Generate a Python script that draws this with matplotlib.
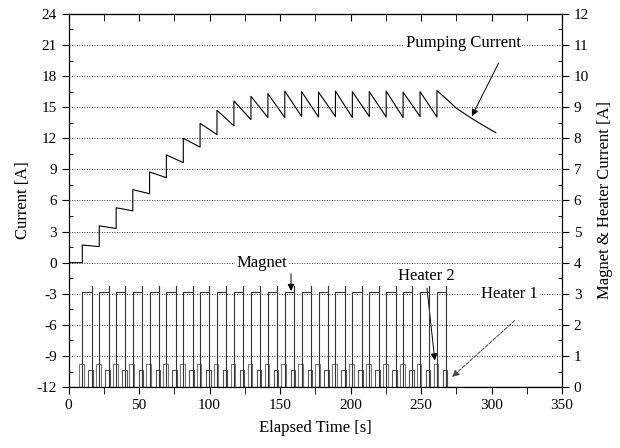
import numpy as np
import matplotlib.pyplot as plt
from matplotlib.ticker import MultipleLocator

plt.rcParams['font.family'] = ['Liberation Serif', 'DejaVu Serif']
plt.rcParams['axes.unicode_minus'] = False

# Data
cycle_start = [9.8, 21.8, 33.8, 45.6, 57.5, 69.4, 81.4, 93.3, 105.3, 117.3, 129.4,
               141.4, 153.4, 165.3, 177.3, 189.3, 201.3, 213.3, 225.3, 237.3, 249.3, 261.3]
pump_peak = [1.7, 3.55, 5.3, 7.05, 8.75, 10.4, 12.0, 13.45, 14.7, 15.6, 16.05,
             16.3, 16.55, 16.5, 16.45, 16.55, 16.5, 16.5, 16.55, 16.45, 16.5]
pump_end = [1.55, 3.3, 5.0, 6.65, 8.2, 9.65, 11.15, 12.35, 13.2, 13.8, 14.0,
            14.0, 14.1, 14.05, 14.1, 14.0, 14.1, 14.05, 14.0, 14.1, 14.05]
decay_t = [261.3, 268.0, 275.0, 285.0, 294.0, 303.0]
decay_i = [16.6, 15.8, 14.9, 14.0, 13.25, 12.55]

magnet_level = 3.05
magnet_spike = 3.25
magnet_len = 6.6
heater2_level = 0.75
heater1_level = 0.56
heater2_window = (-2.4, 1.0)
heater1_window = (4.2, 7.4)

# Build traces
pt, pi = [0.0], [0.0]
prev = 0.0
for k, t0 in enumerate(cycle_start[:-1]):
    pt += [t0, t0]
    pi += [prev, pump_peak[k]]
    prev = pump_end[k]
    pt.append(cycle_start[k + 1])
    pi.append(prev)
pt += [decay_t[0]] + decay_t
pi += [prev] + decay_i

mt, mi = [0.0], [0.0]
h2t, h2i = [0.0], [0.0]
h1t, h1i = [0.0], [0.0]
for t0 in cycle_start:
    t1 = t0 + magnet_len
    mt += [t0, t0, t1, t1, t1]
    mi += [0, magnet_level, magnet_level, magnet_spike, 0]
    a, b = t0 + heater2_window[0], t0 + heater2_window[1]
    h2t += [a, a, b, b]
    h2i += [0, heater2_level, heater2_level, 0]
    a, b = t0 + heater1_window[0], t0 + heater1_window[1]
    h1t += [a, a, b, b]
    h1i += [0, heater1_level, heater1_level, 0]
mt.append(350); mi.append(0)
h2t.append(350); h2i.append(0)
h1t.append(350); h1i.append(0)

fig = plt.figure(figsize=(6.2, 4.48), dpi=100)
ax = fig.add_axes([0.1105, 0.136, 0.796, 0.833])
ax2 = ax.twinx()

ax.set_xlim(0, 350)
ax.set_ylim(-12, 24)
ax2.set_ylim(0, 12)

for y in np.arange(-9, 24, 3):
    ax.axhline(y, color='black', lw=0.6, ls=(0, (1, 2)), zorder=0)

ax2.plot(h2t, h2i, color='#777777', lw=0.8)
ax2.plot(h1t, h1i, color='#555555', lw=0.8)
ax2.plot(mt, mi, color='#333333', lw=0.8)
ax.plot(pt, pi, color='black', lw=0.8)

ax.xaxis.set_major_locator(MultipleLocator(50))
ax.xaxis.set_minor_locator(MultipleLocator(25))
ax.yaxis.set_major_locator(MultipleLocator(3))
ax.yaxis.set_minor_locator(MultipleLocator(1.5))
ax2.yaxis.set_major_locator(MultipleLocator(1))
ax2.yaxis.set_minor_locator(MultipleLocator(0.5))

ax.tick_params(axis='x', which='both', direction='out', length=5, labelsize=11)
ax.tick_params(axis='y', which='major', direction='out', length=5, labelsize=11)
ax.tick_params(axis='y', which='minor', direction='in', length=3)
ax2.tick_params(axis='y', which='major', direction='out', length=5, labelsize=11)
ax2.tick_params(axis='y', which='minor', direction='in', length=3)

top = ax.secondary_xaxis('top')
top.xaxis.set_major_locator(MultipleLocator(50))
top.xaxis.set_minor_locator(MultipleLocator(25))
top.tick_params(which='both', direction='in', length=5, labeltop=False)

ax.set_xlabel('Elapsed Time [s]', fontsize=12, labelpad=6)
ax.set_ylabel('Current [A]', fontsize=12, labelpad=4)
ax2.set_ylabel('Magnet & Heater Current [A]', fontsize=12, labelpad=6)

arrow = dict(arrowstyle='-|>', color='black', lw=0.7, mutation_scale=10)
box = dict(facecolor='white', edgecolor='none', pad=1)

ax.annotate('', xy=(285.2, 13.9), xytext=(305.9, 19.5), arrowprops=arrow)
ax.text(279.8, 21.2, 'Pumping Current', fontsize=12, ha='center', va='center', bbox=box)

ax.annotate('', xy=(157.8, -3.0), xytext=(157.8, -0.8), arrowprops=arrow)
ax.text(137.2, 0.0, 'Magnet', fontsize=12, ha='center', va='center', bbox=box)

ax.annotate('', xy=(260.0, -9.7), xytext=(254.0, -2.2), arrowprops=arrow)
ax.text(253.5, -1.3, 'Heater 2', fontsize=12, ha='center', va='center', bbox=box)

ax.annotate('', xy=(270.6, -11.2), xytext=(317.9, -5.4),
            arrowprops=dict(arrowstyle='-|>', color='#444444', lw=0.7, ls='--', mutation_scale=10))
ax.text(313.0, -3.0, 'Heater 1', fontsize=12, ha='center', va='center', bbox=box)

plt.savefig('out.png', dpi=100)
